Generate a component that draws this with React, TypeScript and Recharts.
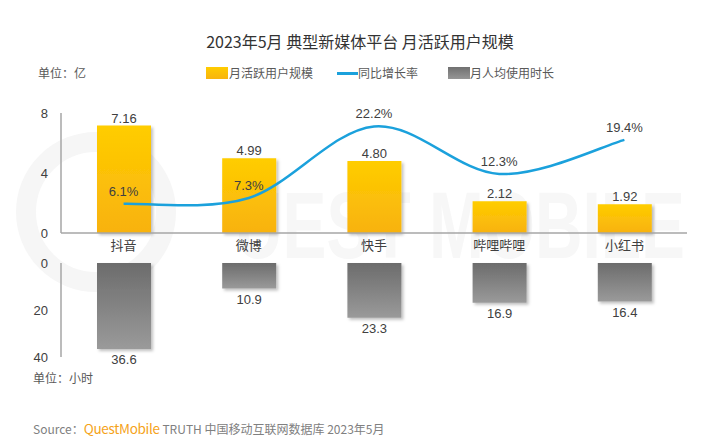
import React from 'react';
import { ComposedChart, BarChart, Bar, Line, XAxis, YAxis, LabelList } from 'recharts';

const categories = ['抖音', '微博', '快手', '哔哩哔哩', '小红书'];
const mauValues = [7.16, 4.99, 4.80, 2.12, 1.92];
const growthValues = [6.1, 7.3, 22.2, 12.3, 19.4];
const hoursValues = [36.6, 10.9, 23.3, 16.9, 16.4];
const topTicks = [0, 4, 8];
const bottomTicks = [0, 20, 40];

const data = categories.map((name, i) => ({
  name,
  mau: mauValues[i],
  growth: growthValues[i],
  hours: hoursValues[i],
}));

const FONT = '"Liberation Sans", "Noto Sans CJK SC", sans-serif';
const CJK = '"Noto Sans CJK SC", "Liberation Sans", sans-serif';
const TEXT = '#404040';
const AXIS = '#a6a6a6';

// Excel-like smoothed curve (Catmull-Rom style Bezier)
const smoothCurve = (context: any) => {
  let pts: number[][] = [];
  return {
    areaStart() {},
    areaEnd() {},
    lineStart() { pts = []; },
    point(x: number, y: number) { pts.push([+x, +y]); },
    lineEnd() {
      if (!pts.length) return;
      context.moveTo(pts[0][0], pts[0][1]);
      for (let i = 0; i < pts.length - 1; i++) {
        const p0 = pts[i - 1] || pts[i];
        const p1 = pts[i];
        const p2 = pts[i + 1];
        const p3 = pts[i + 2] || p2;
        const c1x = p1[0] + (p2[0] - p0[0]) / 6;
        const c1y = p1[1] + (p2[1] - p0[1]) / 6;
        const c2x = p2[0] - (p3[0] - p1[0]) / 6;
        const c2y = p2[1] - (p3[1] - p1[1]) / 6;
        context.bezierCurveTo(c1x, c1y, c2x, c2y, p2[0], p2[1]);
      }
    },
  };
};

const HoursLabel = (props: any) => {
  const { x, y, width, height, value } = props;
  const bottom = Math.max(y, y + height);
  return (
    <text x={x + width / 2} y={bottom + 15} textAnchor="middle" fill={TEXT} fontSize={13} fontFamily={FONT}>
      {Number(value).toFixed(1)}
    </text>
  );
};

export default function App() {
  return (
    <div style={{ position: 'absolute', left: 0, top: 0, width: 720, height: 442, background: '#fff', overflow: 'hidden', fontFamily: CJK }}>
      {/* watermark */}
      <svg width={720} height={442} style={{ position: 'absolute', left: 0, top: 0 }}>
        <circle cx={96} cy={212} r={70} fill="none" stroke="#f6f6f6" strokeWidth={20} />
        <text x={235} y={258} fontSize={95} fontFamily={FONT} fontWeight="bold" fill="#f7f7f7" textLength={450} lengthAdjust="spacingAndGlyphs">
          UEST MOBILE
        </text>
      </svg>

      <div style={{ position: 'absolute', left: 0, top: 30, width: 720, textAlign: 'center', fontSize: 16, lineHeight: '22px', color: '#333' }}>
        2023年5月 典型新媒体平台 月活跃用户规模
      </div>

      <div style={{ position: 'absolute', left: 38, top: 65, fontSize: 12, lineHeight: '16px', color: '#595959' }}>单位：亿</div>

      {/* legend */}
      <div style={{ position: 'absolute', left: 206, top: 67, width: 22, height: 12, background: 'linear-gradient(#ffcc00, #f8b40e)' }} />
      <div style={{ position: 'absolute', left: 229, top: 65, fontSize: 12, lineHeight: '16px', color: '#595959' }}>月活跃用户规模</div>
      <div style={{ position: 'absolute', left: 337, top: 72, width: 21, height: 3, background: '#1ba1dc' }} />
      <div style={{ position: 'absolute', left: 358, top: 65, fontSize: 12, lineHeight: '16px', color: '#595959' }}>同比增长率</div>
      <div style={{ position: 'absolute', left: 448, top: 67, width: 22, height: 12, background: 'linear-gradient(#707070, #969696)' }} />
      <div style={{ position: 'absolute', left: 470, top: 65, fontSize: 12, lineHeight: '16px', color: '#595959' }}>月人均使用时长</div>

      {/* top chart */}
      <div style={{ position: 'absolute', left: 0, top: 0 }}>
        <ComposedChart width={720} height={261} data={data} margin={{ top: 113, right: 33, left: 0, bottom: 8 }}>
          <defs>
            <linearGradient id="gYellow" x1="0" y1="0" x2="0" y2="1">
              <stop offset="0%" stopColor="#ffcd00" />
              <stop offset="100%" stopColor="#f8b20f" />
            </linearGradient>
            <filter id="shadow" x="-20%" y="-20%" width="140%" height="140%">
              <feDropShadow dx={2} dy={2} stdDeviation={1.5} floodColor="#000" floodOpacity={0.25} />
            </filter>
          </defs>
          <XAxis
            dataKey="name"
            height={20}
            tickLine={false}
            axisLine={{ stroke: AXIS, strokeWidth: 1.5 }}
            tick={{ fill: TEXT, fontSize: 13, fontFamily: CJK }}
            interval={0}
          />
          <YAxis
            yAxisId="left"
            width={61}
            domain={[0, 8]}
            ticks={topTicks}
            tickLine={false}
            tickMargin={7}
            axisLine={{ stroke: AXIS, strokeWidth: 1.5 }}
            tick={{ fill: TEXT, fontSize: 13, fontFamily: FONT }}
          />
          <YAxis yAxisId="right" orientation="right" domain={[0, 25]} hide />
          <Bar yAxisId="left" dataKey="mau" barSize={54} fill="url(#gYellow)" filter="url(#shadow)" isAnimationActive={false}>
            <LabelList dataKey="mau" position="top" offset={3} fill={TEXT} fontSize={13} fontFamily={FONT} formatter={(v: any) => Number(v).toFixed(2)} />
          </Bar>
          <Line yAxisId="right" dataKey="growth" type={smoothCurve as any} stroke="#1ba1dc" strokeWidth={2.5} dot={false} activeDot={false} isAnimationActive={false}>
            <LabelList dataKey="growth" position="top" offset={8} fill={TEXT} fontSize={13} fontFamily={FONT} formatter={(v: any) => `${Number(v).toFixed(1)}%`} />
          </Line>
        </ComposedChart>
      </div>

      {/* bottom chart */}
      <div style={{ position: 'absolute', left: 0, top: 250 }}>
        <BarChart width={720} height={130} data={data} margin={{ top: 13, right: 33, left: 0, bottom: 23 }}>
          <defs>
            <linearGradient id="gGray" x1="0" y1="0" x2="0" y2="1">
              <stop offset="0%" stopColor="#6c6c6c" />
              <stop offset="100%" stopColor="#9a9a9a" />
            </linearGradient>
            <filter id="shadow2" x="-20%" y="-20%" width="140%" height="140%">
              <feDropShadow dx={2} dy={2} stdDeviation={1.5} floodColor="#000" floodOpacity={0.25} />
            </filter>
          </defs>
          <XAxis dataKey="name" orientation="top" height={0} tick={false} tickLine={false} axisLine={{ stroke: AXIS, strokeWidth: 1.5 }} />
          <YAxis
            width={61}
            reversed
            domain={[0, 40]}
            ticks={bottomTicks}
            tickLine={false}
            tickMargin={7}
            axisLine={{ stroke: AXIS, strokeWidth: 1.5 }}
            tick={{ fill: TEXT, fontSize: 13, fontFamily: FONT }}
          />
          <Bar dataKey="hours" barSize={54} fill="url(#gGray)" filter="url(#shadow2)" isAnimationActive={false}>
            <LabelList dataKey="hours" content={<HoursLabel />} />
          </Bar>
        </BarChart>
      </div>

      <div style={{ position: 'absolute', left: 33, top: 370, fontSize: 12, lineHeight: '16px', color: '#595959' }}>单位：小时</div>

      <div style={{ position: 'absolute', left: 33, top: 420, fontSize: 12, lineHeight: '16px', color: '#808080', whiteSpace: 'nowrap' }}>
        Source：<span style={{ color: '#f5a31a', fontSize: 13.5, letterSpacing: -0.3 }}>QuestMobile</span> TRUTH 中国移动互联网数据库 2023年5月
      </div>
    </div>
  );
}
